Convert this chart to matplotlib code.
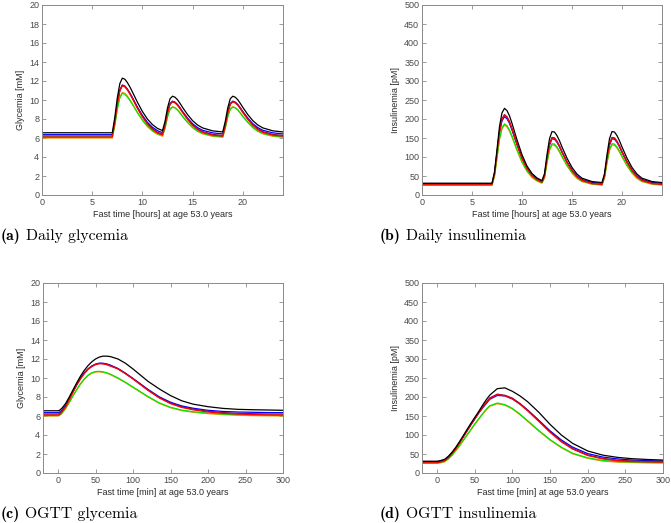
import matplotlib
matplotlib.use("Agg")
import matplotlib.pyplot as plt

# ---- daily simulation (hours); meals at 7, 12 and 18 h ----
# time grid: start, meal 1 segment (7..12), meal 2 segment (12.25..18), meal 3 segment (18.25..24)
t_meal1 = [7, 7.25, 7.5, 7.75, 8, 8.25, 8.5, 8.75, 9, 9.5, 10, 10.5, 11, 11.5, 12]
t_meal2 = [12.25, 12.5, 12.75, 13, 13.25, 13.5, 13.75, 14, 14.5, 15, 15.5, 16, 17, 18]
t_meal3 = [18.25, 18.5, 18.75, 19, 19.25, 19.5, 19.75, 20, 20.5, 21, 21.5, 22, 23, 24]
t_day = [0] + t_meal1 + t_meal2 + t_meal3

# glycemia [mM], meal 1 and meal 2 segments (meal 3 looks the same as meal 2)
gly_black_m1 = [6.55, 8.16, 10.23, 11.73, 12.3, 12.19, 11.84, 11.38, 10.86, 9.77, 8.79, 7.99, 7.41, 7.01, 6.78]
gly_black_m2 = [7.74, 9.18, 10.13, 10.4, 10.29, 10.02, 9.64, 9.22, 8.46, 7.82, 7.36, 7.06, 6.75, 6.64]
gly_blue_m1 = [6.35, 7.81, 9.68, 11.03, 11.55, 11.45, 11.13, 10.72, 10.25, 9.26, 8.38, 7.65, 7.13, 6.77, 6.56]
gly_blue_m2 = [7.44, 8.75, 9.61, 9.85, 9.75, 9.51, 9.16, 8.78, 8.09, 7.5, 7.09, 6.81, 6.54, 6.43]
gly_purple_m1 = [6.2, 7.69, 9.64, 11.04, 11.58, 11.47, 11.15, 10.72, 10.23, 9.2, 8.29, 7.53, 6.99, 6.61, 6.4]
gly_purple_m2 = [7.33, 8.71, 9.62, 9.88, 9.77, 9.52, 9.15, 8.75, 8.02, 7.4, 6.96, 6.67, 6.38, 6.27]
gly_red_m1 = [6.1, 7.61, 9.56, 10.96, 11.5, 11.39, 11.07, 10.64, 10.15, 9.12, 8.21, 7.45, 6.91, 6.53, 6.32]
gly_red_m2 = [7.25, 8.63, 9.54, 9.8, 9.69, 9.44, 9.07, 8.67, 7.94, 7.32, 6.88, 6.59, 6.3, 6.19]
gly_orange_m1 = [6.0, 7.34, 9.07, 10.32, 10.8, 10.7, 10.42, 10.03, 9.6, 8.69, 7.87, 7.2, 6.72, 6.38, 6.19]
gly_orange_m2 = [7.03, 8.26, 9.07, 9.3, 9.2, 8.98, 8.65, 8.29, 7.64, 7.09, 6.7, 6.44, 6.18, 6.08]
gly_green_m1 = [6.1, 7.39, 9.04, 10.24, 10.7, 10.61, 10.33, 9.96, 9.55, 8.68, 7.89, 7.25, 6.79, 6.47, 6.28]
gly_green_m2 = [7.05, 8.24, 9.03, 9.25, 9.16, 8.94, 8.62, 8.27, 7.64, 7.11, 6.73, 6.48, 6.23, 6.13]

# insulinemia [pM]
ins_black_m1 = [31, 60.6, 119.7, 180.7, 216.2, 228, 222.1, 208.3, 188.6, 145.3, 105.9, 76.3, 56.6, 44.8, 37.9]
ins_black_m2 = [56.3, 106.3, 148.1, 167, 165.7, 156.2, 142.7, 126.5, 96.8, 72.5, 55, 44.2, 35.4, 32.7]
ins_blue_m1 = [30, 56.4, 109.2, 163.8, 195.4, 206, 200.7, 188.4, 170.8, 132.1, 96.9, 70.5, 52.9, 42.3, 36.2]
ins_blue_m2 = [51.2, 94.9, 131.5, 148, 146.8, 138.6, 126.8, 112.6, 86.6, 65.4, 50.1, 40.6, 33, 30.6]
ins_purple_m1 = [28.5, 56, 110.9, 167.6, 200.5, 211.5, 206, 193.2, 174.9, 134.6, 98, 70.6, 52.3, 41.3, 34.9]
ins_purple_m2 = [50.6, 96.2, 134.3, 151.5, 150.3, 141.7, 129.4, 114.6, 87.5, 65.4, 49.4, 39.6, 31.6, 29.1]
ins_red_m1 = [27, 54.5, 109.4, 166.1, 199, 210, 204.5, 191.7, 173.4, 133.1, 96.5, 69.1, 50.8, 39.8, 33.4]
ins_red_m2 = [49.1, 94.7, 132.8, 150, 148.8, 140.2, 127.9, 113.1, 86, 63.9, 47.9, 38.1, 30.1, 27.6]
ins_orange_m1 = [25.5, 49.3, 96.8, 146, 174.5, 184, 179.2, 168.2, 152.3, 117.4, 85.7, 62, 46.1, 36.6, 31]
ins_orange_m2 = [44.7, 84.1, 117.1, 132, 130.9, 123.5, 112.8, 100.1, 76.6, 57.5, 43.6, 35.1, 28.2, 26]
ins_green_m1 = [27, 51, 99, 148.6, 177.4, 187, 182.2, 171, 155, 119.8, 87.8, 63.8, 47.8, 38.2, 32.6]
ins_green_m2 = [46.4, 86.4, 119.9, 135, 133.9, 126.4, 115.6, 102.6, 78.8, 59.4, 45.4, 36.7, 29.7, 27.5]

# ---- OGTT (minutes) ----
t_ogtt = [-20, 0, 2, 5, 10, 15, 20, 25, 30, 35, 40, 45, 50, 55, 60, 65, 70, 80, 90, 100,
          110, 120, 135, 150, 165, 180, 200, 220, 240, 260, 280, 300]

ogtt_gly_black = [6.55, 6.55, 6.6, 6.8, 7.3, 8.0, 8.75, 9.5, 10.2, 10.8, 11.3, 11.7, 12.0, 12.2, 12.3, 12.3,
                  12.25, 12.0, 11.55, 10.95, 10.3, 9.65, 8.85, 8.15, 7.6, 7.25, 6.98, 6.8, 6.7, 6.66, 6.63, 6.6]
ogtt_gly_blue = [6.35, 6.35, 6.4, 6.6, 7.1, 7.8, 8.6, 9.35, 10.0, 10.55, 10.95, 11.25, 11.45, 11.55, 11.55, 11.48,
                 11.35, 11.0, 10.5, 9.95, 9.38, 8.8, 8.02, 7.45, 7.06, 6.82, 6.6, 6.48, 6.42, 6.39, 6.36, 6.35]
ogtt_gly_purple = [6.2, 6.2, 6.25, 6.48, 7.02, 7.76, 8.56, 9.3, 9.95, 10.5, 10.94, 11.25, 11.45, 11.55, 11.53, 11.45,
                   11.3, 10.97, 10.48, 9.92, 9.33, 8.74, 7.95, 7.36, 6.97, 6.73, 6.5, 6.36, 6.28, 6.24, 6.21, 6.2]
ogtt_gly_red = [6.1, 6.1, 6.15, 6.4, 6.95, 7.7, 8.5, 9.25, 9.9, 10.45, 10.9, 11.2, 11.4, 11.5, 11.48, 11.4,
                11.25, 10.95, 10.45, 9.9, 9.3, 8.7, 7.9, 7.3, 6.9, 6.65, 6.42, 6.28, 6.2, 6.15, 6.12, 6.1]
ogtt_gly_orange = [6.0, 6.0, 6.05, 6.25, 6.75, 7.4, 8.1, 8.75, 9.35, 9.85, 10.25, 10.5, 10.63, 10.65, 10.6, 10.5,
                   10.35, 9.95, 9.5, 9.0, 8.5, 8.0, 7.33, 6.87, 6.57, 6.4, 6.25, 6.15, 6.08, 6.04, 6.02, 6.0]
ogtt_gly_green = [6.05, 6.05, 6.1, 6.3, 6.8, 7.45, 8.15, 8.8, 9.4, 9.9, 10.3, 10.55, 10.68, 10.7, 10.65, 10.55,
                  10.4, 10.0, 9.55, 9.05, 8.55, 8.05, 7.38, 6.92, 6.62, 6.45, 6.3, 6.2, 6.13, 6.09, 6.07, 6.05]

ogtt_ins_black = [31, 31, 31.5, 33, 36, 44, 55, 68, 83, 99, 115, 131, 146, 161, 177, 192,
                  205, 222, 224, 215, 203, 188, 160, 128, 100, 78, 58, 47, 41, 37.5, 35.5, 34]
ogtt_ins_blue = [30, 30, 30.5, 31.5, 34.5, 42, 53, 66, 81, 96, 112, 127, 142, 157, 170, 182,
                 194, 204, 203, 195, 182, 166, 139, 111, 87, 68, 51, 42, 37, 34, 32.5, 31.5]
ogtt_ins_purple = [28.5, 28.5, 29, 30.5, 33.5, 41.5, 52.5, 65.5, 80.5, 96.5, 112.5, 128.5, 143.5, 158.5, 172.5, 185.5,
                   197.5, 207.5, 204.5, 197, 183, 166, 138, 109, 84, 64.5, 47.5, 38.5, 33.5, 31.5, 30.5, 30]
ogtt_ins_red = [27, 27, 27.5, 29, 32, 40, 51, 64, 79, 95, 111, 127, 142, 157, 171, 184,
                196, 206, 203, 195, 181, 164, 136, 107, 82, 63, 46, 37, 32, 30, 29, 28.5]
ogtt_ins_orange = [25.5, 25.5, 26, 27, 29.5, 36.5, 46.5, 58.5, 71.5, 85.5, 99.5, 113.5, 127.5, 140.5, 153.5, 165.5,
                   175.5, 182.5, 178.5, 168.5, 153.5, 136.5, 110.5, 86.5, 66.5, 50.5, 38.5, 31.5, 28.5, 27.5, 26.5, 26]
ogtt_ins_green = [27, 27, 27.5, 28.5, 31, 38, 48, 60, 73, 87, 101, 115, 129, 142, 155, 167,
                  177, 184, 180, 170, 155, 138, 112, 88, 68, 52, 40, 33, 30, 29, 28, 27.5]

line_colors = {"blue": "#0000ff", "purple": "#7a0a5a", "orange": "#ff8c00",
               "green": "#00e600", "red": "#ff0000", "black": "#000000"}
draw_order = ["blue", "purple", "orange", "green", "red", "black"]

# first value of each day curve is the t=0 baseline (same as at meal start)
day_gly = {
    "black": [gly_black_m1[0]] + gly_black_m1 + gly_black_m2 + gly_black_m2,
    "blue": [gly_blue_m1[0]] + gly_blue_m1 + gly_blue_m2 + gly_blue_m2,
    "purple": [gly_purple_m1[0]] + gly_purple_m1 + gly_purple_m2 + gly_purple_m2,
    "red": [gly_red_m1[0]] + gly_red_m1 + gly_red_m2 + gly_red_m2,
    "orange": [gly_orange_m1[0]] + gly_orange_m1 + gly_orange_m2 + gly_orange_m2,
    "green": [gly_green_m1[0]] + gly_green_m1 + gly_green_m2 + gly_green_m2,
}
day_ins = {
    "black": [ins_black_m1[0]] + ins_black_m1 + ins_black_m2 + ins_black_m2,
    "blue": [ins_blue_m1[0]] + ins_blue_m1 + ins_blue_m2 + ins_blue_m2,
    "purple": [ins_purple_m1[0]] + ins_purple_m1 + ins_purple_m2 + ins_purple_m2,
    "red": [ins_red_m1[0]] + ins_red_m1 + ins_red_m2 + ins_red_m2,
    "orange": [ins_orange_m1[0]] + ins_orange_m1 + ins_orange_m2 + ins_orange_m2,
    "green": [ins_green_m1[0]] + ins_green_m1 + ins_green_m2 + ins_green_m2,
}
ogtt_gly = {"black": ogtt_gly_black, "blue": ogtt_gly_blue, "purple": ogtt_gly_purple,
            "red": ogtt_gly_red, "orange": ogtt_gly_orange, "green": ogtt_gly_green}
ogtt_ins = {"black": ogtt_ins_black, "blue": ogtt_ins_blue, "purple": ogtt_ins_purple,
            "red": ogtt_ins_red, "orange": ogtt_ins_orange, "green": ogtt_ins_green}

plt.rcParams['font.family'] = ['Liberation Sans', 'DejaVu Sans']

W, H = 671, 523
fig = plt.figure(figsize=(W / 100, H / 100), dpi=100)


def panel(rect, t, curves, xlim, xticks, ylim, yticks, xlabel, ylabel):
    ax = fig.add_axes(rect)
    for name in draw_order:
        ax.plot(t, curves[name], color=line_colors[name], lw=0.9)
    ax.set_xlim(xlim)
    ax.set_ylim(ylim)
    ax.set_xticks(xticks)
    ax.set_yticks(yticks)
    ax.tick_params(direction='in', length=3, width=0.6, top=True, right=True,
                   labelsize=6.5, colors='#8a8a8a', labelcolor='#4a4a4a', pad=2)
    for s in ax.spines.values():
        s.set_color('#8a8a8a')
        s.set_linewidth(0.7)
    ax.set_xlabel(xlabel, fontsize=6.5, color='#2a2a2a', labelpad=2)
    ax.set_ylabel(ylabel, fontsize=6.5, color='#2a2a2a', labelpad=3)
    return ax


panel([42 / W, 1 - 195 / H, 241 / W, 190 / H], t_day, day_gly, (0, 24), [0, 5, 10, 15, 20],
      (0, 20), list(range(0, 21, 2)), 'Fast time [hours] at age 53.0 years', 'Glycemia [mM]')
panel([422 / W, 1 - 195 / H, 240 / W, 190 / H], t_day, day_ins, (0, 24), [0, 5, 10, 15, 20],
      (0, 500), list(range(0, 501, 50)), 'Fast time [hours] at age 53.0 years', 'Insulinemia [pM]')
panel([43 / W, 1 - 473 / H, 240 / W, 190 / H], t_ogtt, ogtt_gly, (-20, 300), list(range(0, 301, 50)),
      (0, 20), list(range(0, 21, 2)), 'Fast time [min] at age 53.0 years', 'Glycemia [mM]')
panel([422 / W, 1 - 473 / H, 241 / W, 190 / H], t_ogtt, ogtt_ins, (-20, 300), list(range(0, 301, 50)),
      (0, 500), list(range(0, 501, 50)), 'Fast time [min] at age 53.0 years', 'Insulinemia [pM]')

# sub-captions: bold label, then regular text
captions = [((1, 236), '(a)', 'Daily glycemia'),
            ((380, 236), '(b)', 'Daily insulinemia'),
            ((1, 514), '(c)', 'OGTT glycemia'),
            ((380, 514), '(d)', 'OGTT insulinemia')]
fig.canvas.draw()
renderer = fig.canvas.get_renderer()
for (px, py), tag, txt in captions:
    t1 = fig.text(px / W, 1 - py / H, tag, family='cmb10', fontsize=11.3, va='center', ha='left')
    bb = t1.get_window_extent(renderer=renderer)
    fig.text((bb.x1 + 5) / W, 1 - py / H, txt, family='cmr10', fontsize=11.3, va='center', ha='left')

fig.savefig('out.png', dpi=100)
